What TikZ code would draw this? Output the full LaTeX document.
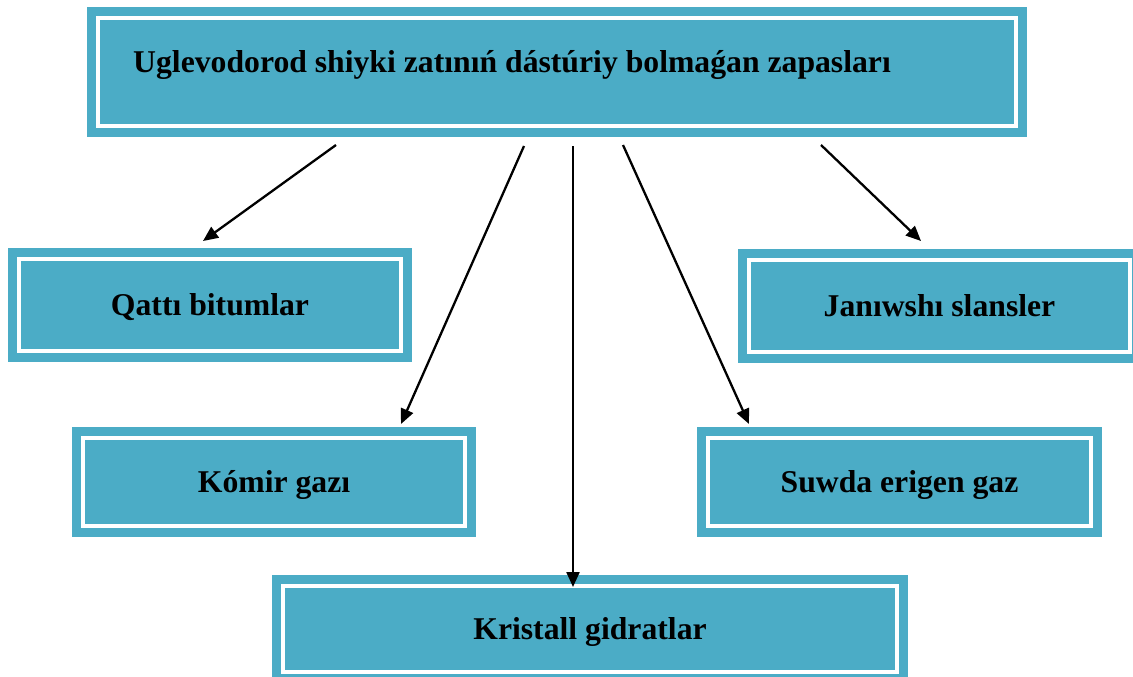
\documentclass[tikz,border=0pt]{standalone}
\usepackage{fontspec}
\setmainfont{Liberation Serif}
\usetikzlibrary{arrows.meta}
\definecolor{tealbox}{RGB}{75,172,198}
\begin{document}
\begin{tikzpicture}[x=1pt,y=-1pt,
  boxtxt/.style={font=\fontsize{31.7}{38}\selectfont\bfseries},
  box/.style={rectangle, fill=tealbox, draw=white, line width=4pt,
    preaction={draw=tealbox, line width=22pt},
    inner sep=0pt, boxtxt, text height=21pt, text depth=0pt},
  conn/.style={draw=black, line width=2.3pt, -{Triangle[length=15pt,width=13pt]}}]
\useasboundingbox (0,0) rectangle (1133,677);
\clip (0,0) rectangle (1133,677);
% boxes
\node[box, minimum width=918pt, minimum height=108pt] (top) at (557,72) {};
\node[boxtxt, anchor=base west, inner sep=0pt] (title) at (133,73) {Uglevodorod shiyki zatınıń dástúriy bolmaǵan zapasları};
\node[box, minimum width=382pt, minimum height=92pt] (qatti) at (210,305) {Qattı bitumlar};
\node[box, minimum width=381pt, minimum height=92pt] (jan) at (939.5,306) {Janıwshı slansler};
\node[box, minimum width=382pt, minimum height=88pt] (komir) at (274,482) {Kómir gazı};
\node[box, minimum width=383pt, minimum height=88pt] (suwda) at (899.5,482) {Suwda erigen gaz};
\node[box, minimum width=614pt, minimum height=86pt] (krist) at (590,629) {Kristall gidratlar};
% connector end points
\coordinate (s1) at (336,145);
\coordinate (s2) at (524,146);
\coordinate (s3) at (573,146);
\coordinate (s4) at (623,145);
\coordinate (s5) at (821,145);
\coordinate (e1) at (203,241);
\coordinate (e2) at (401,424);
\coordinate (e3) at (573,587);
\coordinate (e4) at (749,424);
\coordinate (e5) at (921,241);
\draw[conn] (s1) -- (e1);
\draw[conn] (s2) -- (e2);
\draw[conn] (s3) -- (e3);
\draw[conn] (s4) -- (e4);
\draw[conn] (s5) -- (e5);
\end{tikzpicture}
\end{document}
